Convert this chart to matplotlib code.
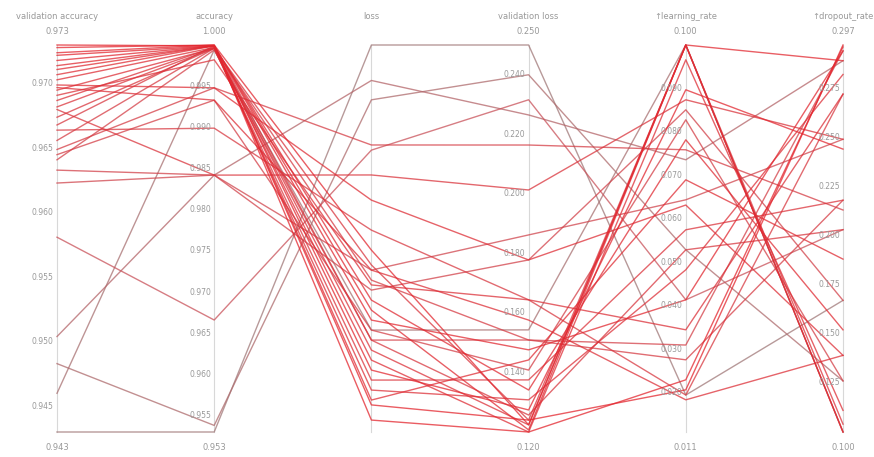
import numpy as np
import matplotlib.pyplot as plt
from matplotlib.colors import LinearSegmentedColormap

# one entry per tuning run
val_accuracy = [0.9430, 0.9483, 0.9460, 0.9504, 0.9581, 0.9623, 0.9633, 0.9641, 0.9649,
                0.9664, 0.9674, 0.9682, 0.9687, 0.9695, 0.9697, 0.9703, 0.9707, 0.9714,
                0.9718, 0.9722, 0.9728, 0.9711, 0.9680, 0.9656, 0.9645,
                0.9724, 0.9691, 0.9668, 0.9699, 0.9730]
accuracy = [0.9530, 0.9538, 0.9994, 0.9842, 0.9666, 0.9842, 0.9842, 0.9994, 0.9948,
            0.9899, 0.9996, 0.9996, 0.9997, 0.9996, 0.9933, 0.9997, 0.9999, 0.9999,
            0.9999, 0.9999, 1.0000, 0.9999, 0.9842, 0.9996, 0.9933,
            1.0000, 0.9982, 0.9999, 0.9948, 0.9999]
loss = [0.1300, 0.1130, 0.0416, 0.1190, 0.0974, 0.0602, 0.0540, 0.0385, 0.0990,
        0.0726, 0.0618, 0.0261, 0.0354, 0.0230, 0.0602, 0.0323, 0.0199, 0.0478,
        0.0447, 0.0292, 0.0137, 0.0509, 0.0897, 0.0571, 0.0416,
        0.0664, 0.0556, 0.0385, 0.0819, 0.0184]
val_loss = [0.2500, 0.2400, 0.1543, 0.2265, 0.2316, 0.1862, 0.1778, 0.1509, 0.2164,
            0.1644, 0.1240, 0.1375, 0.1224, 0.1308, 0.1576, 0.1200, 0.1442, 0.1207,
            0.1476, 0.1274, 0.1200, 0.1341, 0.2013, 0.1509, 0.1408,
            0.1224, 0.1644, 0.1257, 0.1778, 0.1240]
learning_rate = [0.0195, 0.0529, 0.1000, 0.0736, 0.0414, 0.0644, 0.0851, 0.0310, 0.0759,
                 0.0195, 0.1000, 0.0575, 0.1000, 0.0483, 0.0184, 0.0966, 0.0690, 0.1000,
                 0.0414, 0.0897, 0.0230, 0.0782, 0.0874, 0.0276, 0.0828,
                 0.1000, 0.0345, 0.0529, 0.0632, 0.0207]
dropout_rate = [0.167, 0.126, 0.100, 0.289, 0.203, 0.249, 0.167, 0.294, 0.213,
                0.272, 0.100, 0.218, 0.104, 0.282, 0.139, 0.111, 0.188, 0.100,
                0.294, 0.244, 0.296, 0.152, 0.249, 0.218, 0.126,
                0.289, 0.272, 0.203, 0.139, 0.297]

columns = ["validation accuracy", "accuracy", "loss", "validation loss",
           "\u2191learning_rate", "\u2191dropout_rate"]
series = [val_accuracy, accuracy, loss, val_loss, learning_rate, dropout_rate]
lows = [0.943, 0.953, 0.010, 0.120, 0.011, 0.100]
highs = [0.973, 1.000, 0.130, 0.250, 0.100, 0.297]
ticks = [
    [0.945, 0.950, 0.955, 0.960, 0.965, 0.970],
    [0.955, 0.960, 0.965, 0.970, 0.975, 0.980, 0.985, 0.990, 0.995],
    [],
    [0.140, 0.160, 0.180, 0.200, 0.220, 0.240],
    [0.020, 0.030, 0.040, 0.050, 0.060, 0.070, 0.080, 0.090],
    [0.125, 0.150, 0.175, 0.200, 0.225, 0.250, 0.275],
]
show_ends = [True, True, False, True, True, True]

data = np.array(series).T
norm = (data - np.array(lows)) / (np.array(highs) - np.array(lows))

fig = plt.figure(figsize=(8.74, 4.57), dpi=100)
ax = fig.add_axes([57 / 874, 25 / 457, 786 / 874, 387 / 457])
ax.set_xlim(0, len(columns) - 1)
ax.set_ylim(0, 1)
ax.axis("off")

cmap = LinearSegmentedColormap.from_list("runs", ["#a07878", "#c9525a", "#e3262e"])
xs = np.arange(len(columns))
va = np.array(val_accuracy)
for i in np.argsort(va):
    c = cmap((va[i] - va.min()) / (va.max() - va.min()))
    ax.plot(xs, norm[i], color=c, lw=1.0, alpha=0.75, clip_on=False, zorder=2)

txt = "#999999"
for k, name in enumerate(columns):
    ax.plot([k, k], [0, 1], color="#d8d8d8", lw=0.8, zorder=1, clip_on=False)
    ax.text(k, 1.073, name, ha="center", va="center", fontsize=6, color=txt)
    if show_ends[k]:
        ax.text(k, 1.035, f"{highs[k]:.3f}", ha="center", va="center", fontsize=6, color=txt)
        ax.text(k, -0.04, f"{lows[k]:.3f}", ha="center", va="center", fontsize=6, color=txt)
    for t in ticks[k]:
        y = (t - lows[k]) / (highs[k] - lows[k])
        ax.text(k - 0.02, y, f"{t:.3f}", ha="right", va="center", fontsize=5.5,
                color=txt, zorder=3)

fig.savefig("out.png", dpi=100, facecolor="white")
